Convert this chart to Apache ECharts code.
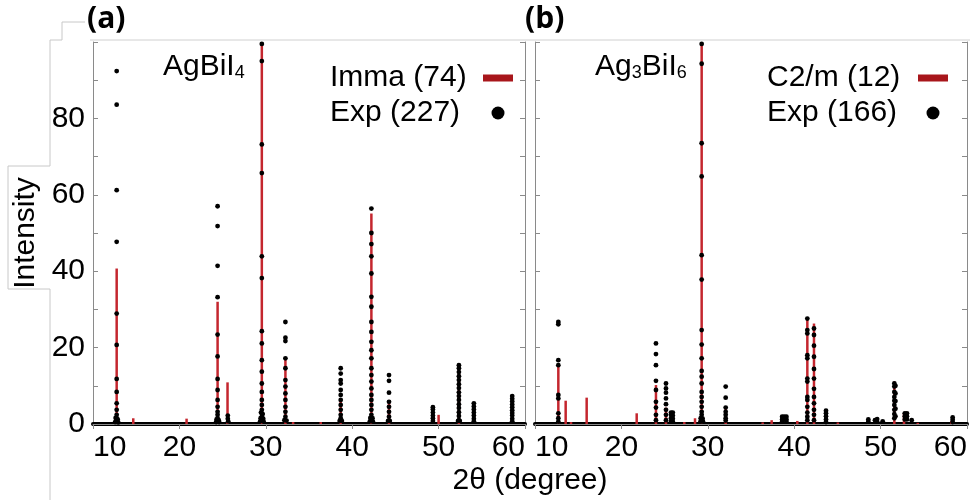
<!DOCTYPE html>
<html><head><meta charset="utf-8">
<script src="https://cdn.jsdelivr.net/npm/echarts@6/dist/echarts.min.js"></script>
<style>html,body{margin:0;padding:0;background:#fff}#c{width:973px;height:500px}</style>
</head><body><div id="c"></div>
<script>
// ---------------- data ----------------
const xTicks = [10, 20, 30, 40, 50, 60];
const yLabels = [0, 20, 40, 60, 80];
const panelTags = ['(a)', '(b)'];
const legendA = ['Imma (74)', 'Exp (227)'];
const legendB = ['C2/m (12)', 'Exp (166)'];

// (a) AgBiI4 – calculated (Imma) stick pattern
const calcA_x = [12.74, 14.66, 20.83, 24.42, 25.57, 29.54, 32.27, 33.16, 36.36, 38.67, 42.22, 44.26, 50.0, 52.35];
const calcA_y = [40.7, 1.5, 1.4, 32.0, 10.9, 100, 17.2, 0.5, 0.5, 6.7, 55.1, 6.3, 2.4, 14.5];

// (a) experimental points [2θ, intensity]
const expA = [
  [12.74,92.4],[12.74,83.6],[12.74,61.2],[12.74,47.7],[12.74,28.9],[12.74,20.7],[12.74,11.8],[12.74,8.4],[12.74,5.4],[12.74,3.7],[12.74,2.4],[12.74,1.5],[12.74,1.0],
  [12.62,1.6],[12.86,1.2],[12.56,0.5],[12.92,0.4],
  [24.42,57.0],[24.42,51.8],[24.42,41.4],[24.42,33.2],[24.42,23.4],[24.42,17.7],[24.42,11.8],[24.42,8.9],[24.42,6.3],[24.42,4.5],[24.42,3.2],[24.42,2.4],[24.42,1.5],
  [24.30,1.2],[24.55,1.0],[24.25,0.5],[24.60,0.5],
  [25.60,2.2],[25.60,1.4],[25.65,0.7],
  [29.54,99.5],[29.54,95.0],[29.54,73.2],[29.54,65.7],[29.54,43.9],[29.54,38.2],[29.54,24.3],[29.54,21.1],[29.54,16.7],[29.54,13.7],[29.54,10.6],[29.54,8.4],[29.54,6.3],[29.54,5.0],[29.54,3.7],[29.54,2.8],[29.54,1.9],
  [29.44,3.0],[29.64,2.6],[29.40,1.5],[29.70,1.4],[29.35,0.7],[29.75,0.6],
  [32.27,26.7],[32.27,22.6],[32.27,21.7],[32.27,17.2],[32.27,14.6],[32.27,11.5],[32.27,9.8],[32.27,8.0],[32.27,6.3],[32.27,4.5],[32.27,3.2],[32.27,1.9],
  [32.15,1.0],[32.40,0.9],
  [38.67,14.6],[38.67,13.2],[38.67,11.5],[38.67,10.6],[38.67,8.9],[38.67,7.6],[38.67,6.3],[38.67,5.0],[38.67,3.7],[38.67,2.4],[38.67,1.5],
  [38.55,0.8],[38.80,0.8],
  [42.22,56.4],[42.22,50.0],[42.22,47.1],[42.22,43.9],[42.22,39.4],[42.22,33.3],[42.22,30.7],[42.22,26.7],[42.22,24.1],[42.22,21.5],[42.22,19.3],[42.22,17.2],[42.22,14.6],[42.22,12.8],[42.22,11.1],[42.22,9.3],[42.22,7.6],[42.22,6.3],[42.22,5.0],[42.22,3.7],[42.22,2.4],
  [42.10,1.6],[42.35,1.5],[42.05,0.7],[42.40,0.6],
  [44.26,12.8],[44.26,11.3],[44.26,8.2],[44.26,5.8],[44.26,4.5],[44.26,3.2],[44.26,1.9],
  [44.15,0.8],[44.35,0.8],
  [49.34,4.4],[49.34,3.8],[49.34,3.0],[49.34,2.2],[49.34,1.5],[49.34,0.8],
  [52.35,15.4],[52.35,14.6],[52.35,13.6],[52.35,12.5],[52.35,11.5],[52.35,10.4],[52.35,9.4],[52.35,8.3],[52.35,7.3],[52.35,6.3],[52.35,5.2],[52.35,4.2],[52.35,3.1],[52.35,2.1],[52.35,1.0],
  [52.25,0.8],[52.45,0.8],
  [54.08,5.4],[54.08,4.6],[54.08,3.8],[54.08,3.0],[54.08,2.2],[54.08,1.4],[54.08,0.7],
  [58.52,7.3],[58.52,6.6],[58.52,5.9],[58.52,5.1],[58.52,4.4],[58.52,3.6],[58.52,2.9],[58.52,2.2],[58.52,1.4],[58.52,0.7]
];

// (b) Ag3BiI6 – calculated (C2/m) stick pattern
const calcB_x = [12.70, 13.55, 14.17, 15.98, 21.77, 24.00, 25.16, 27.28, 28.52, 29.29, 32.07, 36.35, 37.39, 40.36, 41.52, 42.29, 45.05, 51.59, 52.71, 54.30, 58.20];
const calcB_y = [15.0, 6.1, 0.5, 6.9, 2.8, 10.2, 4.3, 0.5, 1.5, 100, 4.5, 0.4, 1.0, 0.8, 27.6, 26.3, 0.4, 11.1, 2.8, 0.3, 0.8];

// (b) experimental points [2θ, intensity]
const expB = [
  [12.70,26.7],[12.70,26.1],[12.70,16.7],[12.70,15.4],[12.70,7.6],[12.70,6.7],[12.70,2.8],[12.70,1.5],[12.70,0.6],
  [24.00,21.1],[24.00,18.3],[24.00,15.4],[24.00,11.3],[24.00,8.9],[24.00,5.8],[24.00,4.3],[24.00,2.4],[24.00,1.0],
  [25.16,10.6],[25.16,9.3],[25.16,8.2],[25.16,6.7],[25.16,5.2],[25.16,3.7],[25.16,2.4],[25.16,1.0],
  [25.74,3.0],[25.74,2.4],[25.74,1.5],[25.74,0.6],[25.95,3.0],[25.95,2.2],[25.95,1.4],[25.95,0.6],
  [29.29,99.5],[29.29,94.3],[29.29,73.5],[29.29,64.8],[29.29,44.2],[29.29,37.8],[29.29,24.6],[29.29,20.8],[29.29,17.2],[29.29,13.9],[29.29,12.4],[29.29,10.6],[29.29,8.4],[29.29,7.1],[29.29,5.8],[29.29,4.5],[29.29,3.2],[29.29,2.4],[29.29,1.5],
  [29.18,1.5],[29.40,1.4],[29.15,0.6],[29.45,0.6],
  [32.07,9.8],[32.07,6.9],[32.07,4.3],[32.07,3.2],[32.07,2.4],[32.07,1.5],[32.07,0.9],
  [38.60,1.9],[38.60,1.2],[38.60,0.6],[38.85,1.9],[38.85,1.2],[39.10,1.9],[39.10,1.2],[39.10,0.6],
  [41.52,27.6],[41.52,24.6],[41.52,23.7],[41.52,18.0],[41.52,17.2],[41.52,11.9],[41.52,11.1],[41.52,7.1],[41.52,6.3],[41.52,4.5],[41.52,3.0],[41.52,1.9],[41.52,1.0],
  [42.29,25.0],[42.29,23.3],[42.29,20.5],[42.29,17.6],[42.29,14.4],[42.29,11.9],[42.29,9.2],[42.29,7.1],[42.29,5.4],[42.29,3.7],[42.29,2.4],[42.29,1.0],
  [43.68,3.5],[43.68,2.8],[43.68,2.0],[43.68,1.2],[43.68,0.5],
  [48.58,1.2],[48.58,0.6],[49.35,1.0],[49.60,1.3],[49.60,0.6],[50.24,0.7],
  [51.59,10.6],[51.59,9.8],[51.59,8.4],[51.59,7.1],[51.59,6.1],[51.59,5.0],[51.59,3.7],[51.59,2.6],[51.59,1.5],
  [51.72,10.0],[51.72,8.0],[51.72,6.0],[51.72,4.0],[51.72,2.0],
  [52.80,2.8],[52.80,2.0],[52.80,1.2],[53.05,2.8],[53.05,2.0],[53.05,1.2],
  [53.60,1.0],
  [58.34,1.7],[58.34,1.1],[58.34,0.5]
];

// ---------------- chart ----------------
const FONT = '"Liberation Sans", Arial, Helvetica, sans-serif';
const GREY = '#8a8a8a';
const RED = '#c4262e';
const zip = (xs, ys) => xs.map((x, i) => [x, ys[i]]);

const grids = [
  { left: 93, top: 42, width: 432, height: 382 },
  { left: 535, top: 42, width: 432, height: 382 }
];

function bottomX(gi) {
  return {
    type: 'value', gridIndex: gi, position: 'bottom', min: xTicks[0], max: xTicks[xTicks.length - 1], interval: 10,
    axisLine: { show: true, onZero: false, lineStyle: { color: '#000', width: 4 } },
    axisTick: { show: false },
    splitLine: { show: false },
    axisLabel: { fontSize: 30, color: '#000', fontFamily: FONT, margin: 9, alignMinLabel: 'left', alignMaxLabel: 'right' }
  };
}
function topX(gi) {
  return {
    type: 'value', gridIndex: gi, position: 'top', min: xTicks[0], max: xTicks[xTicks.length - 1], interval: 10,
    axisLine: { show: true, lineStyle: { color: GREY, width: 1 } },
    axisTick: { show: true, inside: true, length: 5, lineStyle: { color: GREY } },
    axisLabel: { show: false }, splitLine: { show: false }
  };
}
function leftY(gi, labels) {
  return {
    type: 'value', gridIndex: gi, position: 'left', min: 0, max: 100, interval: 10,
    axisLine: { show: true, lineStyle: { color: GREY, width: 1 } },
    axisTick: { show: true, inside: true, length: 5, lineStyle: { color: GREY } },
    splitLine: { show: false },
    axisLabel: {
      show: labels, fontSize: 30, color: '#000', fontFamily: FONT, margin: 8,
      formatter: v => (yLabels.indexOf(v) >= 0 ? String(v) : '')
    },
    name: labels ? 'Intensity' : '', nameLocation: 'middle', nameGap: 52,
    nameTextStyle: { fontSize: 30, color: '#000', fontFamily: FONT }
  };
}
function rightY(gi) {
  return {
    type: 'value', gridIndex: gi, position: 'right', min: 0, max: 100, interval: 10,
    axisLine: { show: true, lineStyle: { color: GREY, width: 1 } },
    axisTick: { show: true, inside: true, length: 5, lineStyle: { color: GREY } },
    axisLabel: { show: false }, splitLine: { show: false }
  };
}

function legendFor(names, left, textW) {
  return {
    orient: 'vertical', align: 'right', left: left, top: 58,
    itemWidth: 30, itemHeight: 13, itemGap: 5, selectedMode: false,
    data: [
      { name: names[0], icon: 'path://M0,0H60V14H0Z', itemStyle: { color: '#a8161b', opacity: 1 } },
      { name: names[1], icon: 'circle', itemStyle: { color: '#000', opacity: 1 } }
    ],
    formatter: n => '{t|' + n + '}',
    textStyle: { color: '#000', fontFamily: FONT, fontSize: 30,
      rich: { t: { width: textW, align: 'left', fontSize: 30, lineHeight: 30, fontFamily: FONT, color: '#000' } } }
  };
}

function sticks(name, xi, yi, data) {
  return { name, type: 'bar', xAxisIndex: xi, yAxisIndex: yi, data, barWidth: 2.5,
    itemStyle: { color: RED }, silent: true, z: 2, animation: false, clip: true };
}
function dots(name, xi, yi, data) {
  return { name, type: 'scatter', xAxisIndex: xi, yAxisIndex: yi, data, symbol: 'circle', symbolSize: 4.8,
    itemStyle: { color: '#000', opacity: 1 }, silent: true, z: 3, animation: false };
}

const subRich = {
  m: { fontSize: 30, fontFamily: FONT, lineHeight: 30, verticalAlign: 'bottom', color: '#000' },
  s: { fontSize: 18, fontFamily: FONT, lineHeight: 13, verticalAlign: 'bottom', color: '#000' }
};

const chart = echarts.init(document.getElementById('c'), null, { renderer: 'canvas' });
chart.setOption({
  backgroundColor: '#fff',
  animation: false,
  grid: grids,
  xAxis: [bottomX(0), bottomX(1), topX(0), topX(1)],
  yAxis: [leftY(0, true), leftY(1, false), rightY(0), rightY(1)],
  legend: [legendFor(legendA, 325, 148), legendFor(legendB, 762, 146)],
  series: [
    sticks(legendA[0], 0, 0, zip(calcA_x, calcA_y)),
    dots(legendA[1], 0, 0, expA),
    sticks(legendB[0], 1, 1, zip(calcB_x, calcB_y)),
    dots(legendB[1], 1, 1, expB)
  ],
  graphic: [
    { type: 'polyline', silent: true, z: -1,
      shape: { points: [[85,22],[62,22],[62,40],[50,40],[50,166],[8,166],[8,289],[50,289],[50,500]] },
      style: { stroke: '#c8c8c8', lineWidth: 1, fill: null } },
    { type: 'line', silent: true, z: -1, shape: { x1: 90, y1: 40, x2: 970, y2: 40 },
      style: { stroke: '#d0d0d0', lineWidth: 1 } },
    { type: 'text', left: 87, top: 4, silent: true,
      style: { text: panelTags[0], fontSize: 30, fontWeight: 'bold', fontFamily: '"Open Sans", sans-serif', fill: '#000' } },
    { type: 'text', left: 525, top: 4, silent: true,
      style: { text: panelTags[1], fontSize: 30, fontWeight: 'bold', fontFamily: '"Open Sans", sans-serif', fill: '#000' } },
    { type: 'text', left: 163, top: 52, silent: true,
      style: { text: '{m|AgBiI}{s|4}', fill: '#000', rich: subRich } },
    { type: 'text', left: 595, top: 52, silent: true,
      style: { text: '{m|Ag}{s|3}{m|BiI}{s|6}', fill: '#000', rich: subRich } },
    { type: 'text', x: 530, y: 481, silent: true,
      style: { text: '2θ (degree)', fontSize: 30, fontFamily: FONT, fill: '#000', align: 'center', verticalAlign: 'middle' } }
  ]
});
</script>
</body></html>
